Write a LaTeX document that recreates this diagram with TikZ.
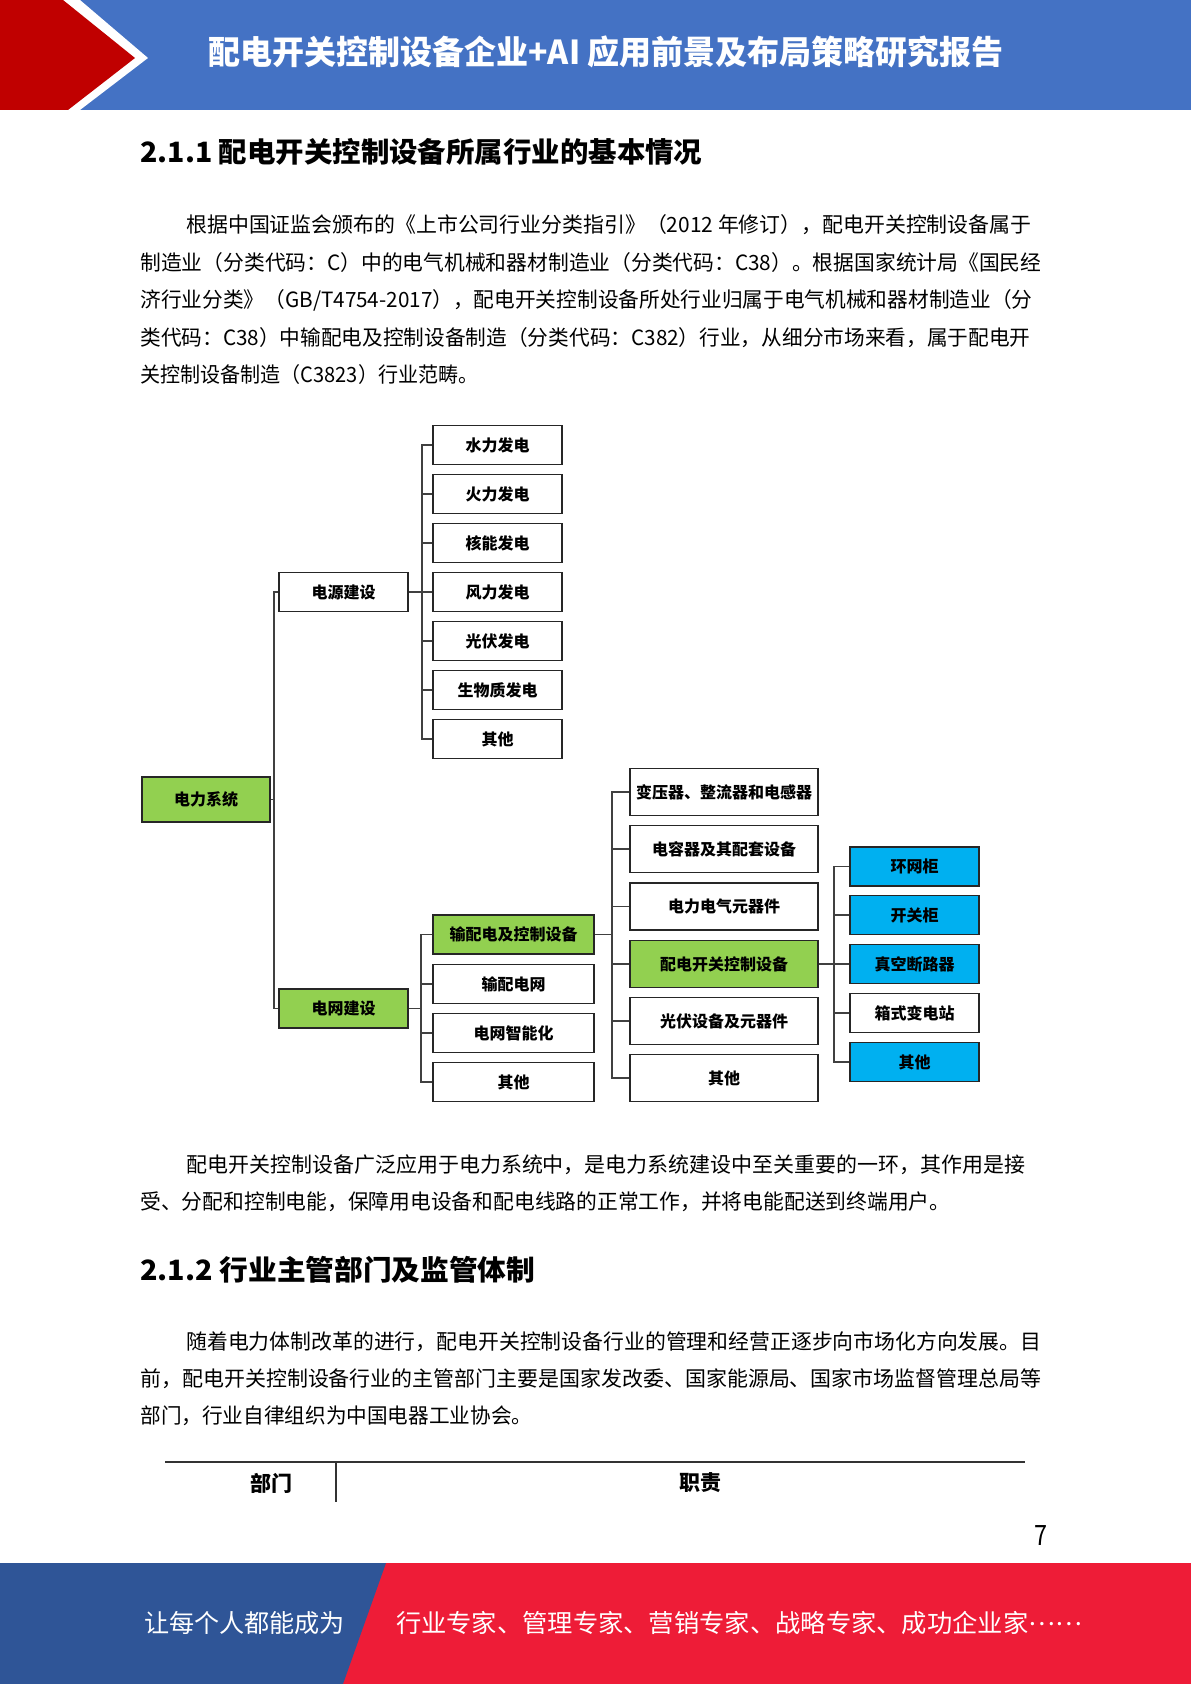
\documentclass[tikz,border=0pt]{standalone}
\usepackage{fontspec}
\setmainfont{Noto Sans CJK SC}
\usepackage{graphicx}
\definecolor{hdrblue}{HTML}{4472C4}
\definecolor{hdrred}{HTML}{C00000}
\definecolor{ftblue}{HTML}{2F5597}
\definecolor{ftred}{HTML}{EE1C37}
\definecolor{gfill}{HTML}{92D050}
\definecolor{bfill}{HTML}{00B0F0}
\newcommand{\fitw}[2]{\resizebox{#1pt}{\height}{#2}}
\tikzset{
  bodytext/.style={anchor=west, inner sep=0pt, font=\fontsize{10.5pt}{12pt}\selectfont},
  headtext/.style={anchor=west, inner sep=0pt, font=\fontsize{14pt}{16pt}\selectfont\bfseries},
  box/.style={draw=black!85, line width=0.9pt, fill=white, inner sep=0pt, text=black,
              font=\fontsize{8pt}{9pt}\selectfont\bfseries},
  lvA/.style={minimum width=64.5pt, minimum height=19.5pt},
  lvB/.style={minimum width=80.5pt, minimum height=19.5pt},
  lvC/.style={minimum width=94pt, minimum height=23.5pt},
  lvD/.style={minimum width=64.5pt, minimum height=19.5pt},
  gbox/.style={fill=gfill},
  bbox/.style={fill=bfill},
  conn/.style={draw=black!75, line width=0.8pt},
}
\begin{document}
\begin{tikzpicture}[x=0.5pt,y=-0.5pt]
\path[use as bounding box] (0,0) rectangle (1191,1684);
% ---------- header ----------
\fill[hdrblue] (0,0) rectangle (1191,110);
\fill[white] (0,0) -- (80,0) -- (148,58) -- (80,110) -- (0,110) -- cycle;
\fill[hdrred] (0,0) -- (63,0) -- (135,58) -- (68,110) -- (0,110) -- cycle;
\node[inner sep=0pt, text=white, font=\fontsize{16.5pt}{18pt}\selectfont\bfseries] (title) at (606,52)
  {\fitw{397.5}{配电开关控制设备企业+AI 应用前景及布局策略研究报告}};
% ---------- heading 2.1.1 ----------
\node[headtext] (h1) at (140,152) {\fitw{281}{2.1.1 配电开关控制设备所属行业的基本情况}};
% ---------- paragraph 1 ----------
\node[bodytext] (p1a) at (186,225) {\fitw{422.5}{根据中国证监会颁布的《上市公司行业分类指引》（2012 年修订），配电开关控制设备属于}};
\node[bodytext] (p1b) at (140,263) {\fitw{450.5}{制造业（分类代码：C）中的电气机械和器材制造业（分类代码：C38）。根据国家统计局《国民经}};
\node[bodytext] (p1c) at (140,300) {\fitw{446}{济行业分类》（GB/T4754-2017），配电开关控制设备所处行业归属于电气机械和器材制造业（分}};
\node[bodytext] (p1d) at (140,338) {\fitw{445}{类代码：C38）中输配电及控制设备制造（分类代码：C382）行业，从细分市场来看，属于配电开}};
\node[bodytext] (p1e) at (140,375) {\fitw{169}{关控制设备制造（C3823）行业范畴。}};
% ---------- diagram ----------
\coordinate (bx0) at (274,0);
\coordinate (bx1) at (422,0);
\coordinate (bx2) at (421,0);
\coordinate (bx3) at (612,0);
\coordinate (bx4) at (834,0);
\node[box,gbox,minimum width=64pt,minimum height=22.5pt] (p0) at (206,799.5) {电力系统};
\node[box,lvA] (a) at (343.5,592) {电源建设};
\node[box,lvA,gbox] (b) at (343.5,1008.5) {电网建设};
\node[box,lvA] (c1) at (497.5,445) {水力发电};
\node[box,lvA] (c2) at (497.5,494) {火力发电};
\node[box,lvA] (c3) at (497.5,543) {核能发电};
\node[box,lvA] (c4) at (497.5,592) {风力发电};
\node[box,lvA] (c5) at (497.5,641) {光伏发电};
\node[box,lvA] (c6) at (497.5,690) {生物质发电};
\node[box,lvA] (c7) at (497.5,739) {其他};
\node[box,lvB,gbox] (d1) at (513.5,934.5) {输配电及控制设备};
\node[box,lvB] (d2) at (513.5,984) {输配电网};
\node[box,lvB] (d3) at (513.5,1033) {电网智能化};
\node[box,lvB] (d4) at (513.5,1082) {其他};
\node[box,lvC] (e1) at (724,792) {变压器、整流器和电感器};
\node[box,lvC] (e2) at (724,849) {电容器及其配套设备};
\node[box,lvC] (e3) at (724,906.5) {电力电气元器件};
\node[box,lvC,gbox] (e4) at (724,964) {配电开关控制设备};
\node[box,lvC] (e5) at (724,1021) {光伏设备及元器件};
\node[box,lvC] (e6) at (724,1078) {其他};
\node[box,lvD,bbox] (f1) at (914.5,866.5) {环网柜};
\node[box,lvD,bbox] (f2) at (914.5,915) {开关柜};
\node[box,lvD,bbox] (f3) at (914.5,964) {真空断路器};
\node[box,lvD] (f4) at (914.5,1013) {箱式变电站};
\node[box,lvD,bbox] (f5) at (914.5,1062) {其他};
\foreach \n in {a,b}
  \draw[conn] (p0.east) -- (p0.east -| bx0) |- (\n.west);
\foreach \n in {c1,c2,c3,c4,c5,c6,c7}
  \draw[conn] (a.east) -- (a.east -| bx1) |- (\n.west);
\foreach \n in {d1,d2,d3,d4}
  \draw[conn] (b.east) -- (b.east -| bx2) |- (\n.west);
\foreach \n in {e1,e2,e3,e4,e5,e6}
  \draw[conn] (d1.east) -- (d1.east -| bx3) |- (\n.west);
\foreach \n in {f1,f2,f3,f4,f5}
  \draw[conn] (e4.east) -- (e4.east -| bx4) |- (\n.west);
% ---------- paragraph 2 ----------
\node[bodytext] (p2a) at (186,1165) {\fitw{419.5}{配电开关控制设备广泛应用于电力系统中，是电力系统建设中至关重要的一环，其作用是接}};
\node[bodytext] (p2b) at (140,1202) {\fitw{405}{受、分配和控制电能，保障用电设备和配电线路的正常工作，并将电能配送到终端用户。}};
% ---------- heading 2.1.2 ----------
\node[headtext] (h2) at (140,1270) {\fitw{197.5}{2.1.2 行业主管部门及监管体制}};
% ---------- paragraph 3 ----------
\node[bodytext] (p3a) at (186,1342) {\fitw{427.5}{随着电力体制改革的进行，配电开关控制设备行业的管理和经营正逐步向市场化方向发展。目}};
\node[bodytext] (p3b) at (140,1379) {\fitw{450.5}{前，配电开关控制设备行业的主管部门主要是国家发改委、国家能源局、国家市场监督管理总局等}};
\node[bodytext] (p3c) at (140,1416) {\fitw{196}{部门，行业自律组织为中国电器工业协会。}};
% ---------- table head ----------
\draw[black!80, line width=1pt] (165,1462) -- (1025,1462);
\draw[black!80, line width=0.6pt] (336,1462) -- (336,1502);
\node[inner sep=0pt, font=\fontsize{10.5pt}{12pt}\selectfont\bfseries] (t1) at (271,1483) {部门};
\node[inner sep=0pt, font=\fontsize{10.5pt}{12pt}\selectfont\bfseries] (t2) at (700,1483) {职责};
% ---------- page number ----------
\node[inner sep=0pt, font=\fontsize{14pt}{16pt}\selectfont] (pg) at (1041,1535) {\resizebox{6.5pt}{\height}{7}};
% ---------- footer ----------
\fill[ftred] (0,1563) rectangle (1191,1684);
\fill[ftblue] (0,1563) -- (386,1563) -- (343,1684) -- (0,1684) -- cycle;
\node[inner sep=0pt, text=white, font=\fontsize{12.5pt}{14pt}\selectfont] (ft1) at (244.5,1623) {\fitw{100.5}{让每个人都能成为}};
\node[inner sep=0pt, text=white, font=\fontsize{12.5pt}{14pt}\selectfont] (ft2) at (739,1623) {\fitw{343}{行业专家、管理专家、营销专家、战略专家、成功企业家\raisebox{0.3em}{……}}};
\end{tikzpicture}
\end{document}
